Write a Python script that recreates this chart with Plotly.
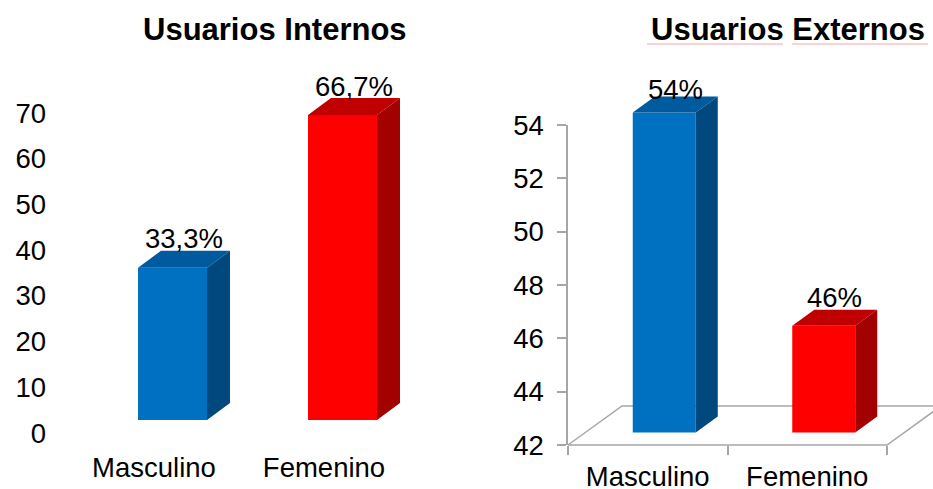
import plotly.graph_objects as go

# ---------------- data ----------------
categorias = ["Masculino", "Femenino"]
internos = [33.3, 66.7]
internos_txt = ["33,3%", "66,7%"]
externos = [54, 46]
externos_txt = ["54%", "46%"]
titulo_int = "Usuarios Internos"
titulo_ext = "Usuarios Externos"
ticks_int = [0, 10, 20, 30, 40, 50, 60, 70]
ticks_ext = [42, 44, 46, 48, 50, 52, 54]

# ---------------- style ----------------
W, H = 933, 489
FONT = "Liberation Sans, Arial, sans-serif"
FS = 27.5
TITLE_FS = 31
FRONT = ["#0070C0", "#FF0000"]
TOP = ["#005A9E", "#C00000"]
SIDE = ["#00487E", "#A30000"]
GREY = "#A6A6A6"

fig = go.Figure()
layout = {}


def ref(n):
    return ("x" if n == 1 else f"x{n}"), ("y" if n == 1 else f"y{n}")


def axkey(n):
    return ("xaxis" if n == 1 else f"xaxis{n}"), ("yaxis" if n == 1 else f"yaxis{n}")


def dom_x(a, b):
    return [a / W, b / W]


def dom_y(top, bot):
    return [1 - bot / H, 1 - top / H]


annotations = []


def add_chart(n, vals, texts, ticks, yr, frame, box, off, depth, bar_px,
              axis_line, floor_depth=None, label_min_py=None,
              xstand=0, ystand=0):
    fl, fr, ft, fb = frame
    bl, br, bt, bb = box
    ox, oy = off
    ppx = (fr - fl) / 2.0
    ppy = (fb - ft) / (yr[1] - yr[0])
    xs = list(range(len(categorias)))

    # ---- frame subplot (visible axes) ----
    xr, yrf = ref(n)
    kx, ky = axkey(n)
    fig.add_trace(go.Scatter(x=xs, y=[yr[0]] * len(xs), mode="none",
                             hoverinfo="skip", showlegend=False,
                             xaxis=xr, yaxis=yrf))
    xa = dict(domain=dom_x(fl, fr), range=[-0.5, 1.5], anchor=yrf,
              tickmode="array", tickvals=xs, ticktext=categorias,
              ticks="", showgrid=False, zeroline=False, showline=False,
              tickfont=dict(size=FS, color="black", family=FONT),
              ticklabelstandoff=xstand, fixedrange=True, automargin=False)
    ya = dict(domain=dom_y(ft, fb), range=yr, anchor=xr,
              tickmode="array", tickvals=ticks,
              showgrid=False, zeroline=False,
              tickfont=dict(size=FS, color="black", family=FONT),
              ticklabelstandoff=ystand, fixedrange=True, automargin=False)
    if axis_line:
        ya.update(showline=True, linecolor=GREY, linewidth=1.5,
                  ticks="outside", ticklen=9, tickcolor=GREY, tickwidth=1.5)
        xa.update(minor=dict(tickmode="array", tickvals=[-0.5, 0.5, 1.5],
                             ticks="outside", ticklen=9, tickcolor=GREY,
                             tickwidth=1.5, showgrid=False))
    else:
        ya.update(showline=False, ticks="")
    layout[kx] = xa
    layout[ky] = ya
    n += 1

    # ---- floor subplot ----
    if floor_depth is not None:
        xr2, yr2 = ref(n)
        kx2, ky2 = axkey(n)
        xd = lambda px: (px - fl) / ppx - 0.5
        yd = lambda py: yr[0] + (fb - py) / ppy
        fdx = floor_depth[0] / ppx
        fdy = floor_depth[1] / ppy
        fx = [-0.5, 1.5, 1.5 + fdx, -0.5 + fdx, -0.5]
        fy = [yr[0], yr[0], yr[0] + fdy, yr[0] + fdy, yr[0]]
        fig.add_trace(go.Scatter(x=fx, y=fy, mode="lines",
                                 line=dict(color=GREY, width=1.5),
                                 hoverinfo="skip", showlegend=False,
                                 xaxis=xr2, yaxis=yr2))
        layout[kx2] = dict(domain=dom_x(bl, br), range=[xd(bl), xd(br)],
                           visible=False, anchor=yr2, fixedrange=True,
                           automargin=False)
        layout[ky2] = dict(domain=dom_y(bt, bb), range=[yd(bb), yd(bt)],
                           visible=False, anchor=xr2, fixedrange=True,
                           automargin=False)
        n += 1

    # ---- bars subplot ----
    xr3, yr3 = ref(n)
    kx3, ky3 = axkey(n)
    xd = lambda px: (px - fl - ox) / ppx - 0.5
    yd = lambda py: yr[0] + (fb - oy - py) / ppy
    layout[kx3] = dict(domain=dom_x(bl, br), range=[xd(bl), xd(br)],
                       visible=False, anchor=yr3, fixedrange=True,
                       automargin=False)
    layout[ky3] = dict(domain=dom_y(bt, bb), range=[yd(bb), yd(bt)],
                       visible=False, anchor=xr3, fixedrange=True,
                       automargin=False)
    base = yr[0]
    w = bar_px / ppx
    hw = w / 2
    ddx = depth[0] / ppx
    ddy = depth[1] / ppy
    fig.add_trace(go.Bar(x=xs, y=[v - base for v in vals], base=base,
                         width=w, marker=dict(color=FRONT, line=dict(width=0)),
                         hoverinfo="skip", showlegend=False,
                         xaxis=xr3, yaxis=yr3))
    for i, v in zip(xs, vals):
        # top face
        fig.add_trace(go.Scatter(
            x=[i - hw, i + hw, i + hw + ddx, i - hw + ddx, i - hw],
            y=[v, v, v + ddy, v + ddy, v],
            mode="lines", fill="toself", fillcolor=TOP[i],
            line=dict(width=0, color=TOP[i]), hoverinfo="skip",
            showlegend=False, xaxis=xr3, yaxis=yr3))
        # side face
        fig.add_trace(go.Scatter(
            x=[i + hw, i + hw, i + hw + ddx, i + hw + ddx, i + hw],
            y=[base, v, v + ddy, base + ddy, base],
            mode="lines", fill="toself", fillcolor=SIDE[i],
            line=dict(width=0, color=SIDE[i]), hoverinfo="skip",
            showlegend=False, xaxis=xr3, yaxis=yr3))
        # label
        back_top_py = fb - oy - (v - base) * ppy - depth[1]
        center_py = back_top_py - 12
        if label_min_py is not None:
            center_py = max(center_py, label_min_py)
        annotations.append(dict(
            x=i + ddx / 2, y=v + ddy, xref=xr3, yref=yr3,
            text=texts[i], showarrow=False, xanchor="center",
            yanchor="middle", yshift=back_top_py - center_py,
            font=dict(size=FS, color="black", family=FONT)))
    return n + 1


nxt = add_chart(1, internos, internos_txt, ticks_int, [0, 70],
                frame=(69, 409, 113, 433), box=(60, 480, 60, 445),
                off=(18.5, 13), depth=(23, 17), bar_px=69,
                axis_line=False, xstand=15, ystand=22)
add_chart(nxt, externos, externos_txt, ticks_ext, [42, 54],
          frame=(568, 887, 125, 445), box=(540, 933, 60, 460),
          off=(16.5, 12.5), depth=(22, 16), bar_px=63,
          axis_line=True, floor_depth=(54, 39), label_min_py=90,
          xstand=12, ystand=8)

# titles
annotations.append(dict(x=275 / W, y=1 - 30 / H, xref="paper", yref="paper",
                        xanchor="center", yanchor="middle",
                        text=f"<b>{titulo_int}</b>", showarrow=False,
                        font=dict(size=TITLE_FS, color="black", family=FONT)))
annotations.append(dict(x=788 / W, y=1 - 30 / H, xref="paper", yref="paper",
                        xanchor="center", yanchor="middle",
                        text=f"<b>{titulo_ext}</b>", showarrow=False,
                        font=dict(size=TITLE_FS, color="black", family=FONT)))

shapes = [
    dict(type="line", xref="paper", yref="paper", x0=647 / W, x1=783 / W,
         y0=1 - 44 / H, y1=1 - 44 / H, line=dict(color="#F4A6A6", width=1)),
    dict(type="line", xref="paper", yref="paper", x0=792 / W, x1=928 / W,
         y0=1 - 44 / H, y1=1 - 44 / H, line=dict(color="#F4A6A6", width=1)),
]

fig.update_layout(
    width=W, height=H, margin=dict(l=0, r=0, t=0, b=0, autoexpand=False),
    paper_bgcolor="white", plot_bgcolor="rgba(0,0,0,0)",
    showlegend=False, annotations=annotations, shapes=shapes,
    font=dict(family=FONT, color="black"),
    **layout,
)
fig.write_html("out.html",
               config={"displayModeBar": False},
               post_script="document.body.style.margin='0px';"
                           "document.body.style.overflow='hidden';")
